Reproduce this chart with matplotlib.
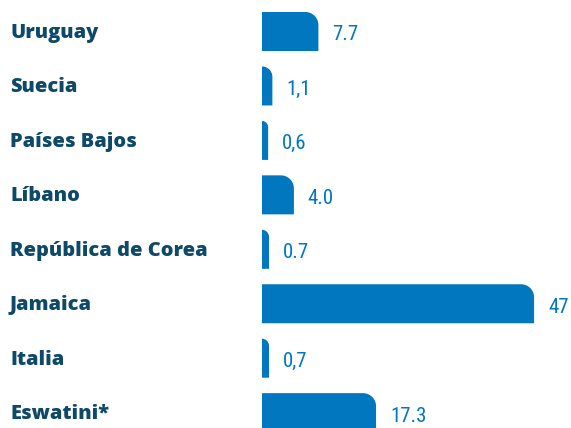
import matplotlib
matplotlib.use("Agg")
import matplotlib.pyplot as plt
from matplotlib.path import Path
from matplotlib.patches import PathPatch
from matplotlib.transforms import IdentityTransform

countries = ["Uruguay", "Suecia", "Países Bajos", "Líbano",
             "República de Corea", "Jamaica", "Italia", "Eswatini*"]
values = [7.7, 1.1, 0.6, 4.0, 0.7, 47, 0.7, 17.3]
value_labels = ["7.7", "1,1", "0,6", "4.0", "0.7", "47", "0,7", "17.3"]

BAR_COLOR = "#0077bf"
LABEL_COLOR = "#0e4a68"
EXP = 0.87

W, H, DPI = 571, 428, 100
fig = plt.figure(figsize=(W / DPI, H / DPI), dpi=DPI)
fig.patch.set_facecolor("white")

row_h = 54.45
first_c = 31.5
ax = fig.add_axes([262 / W, 0, 1 - 262 / W, 1])
ax.set_xscale("function", functions=(lambda v: abs(v) ** EXP,
                                     lambda t: abs(t) ** (1 / EXP)))
ax.set_xlim(0, 54.4)
ax.set_ylim((H - first_c) / row_h, -first_c / row_h)
ax.axis("off")

ypos = list(range(len(countries)))
bars = ax.barh(ypos, values, height=39 / row_h, color=BAR_COLOR, linewidth=0)

fig.canvas.draw()

# Replace each plain rectangle with one whose top-right corner is rounded
for rect in bars:
    bb = rect.get_window_extent()
    x0, y0, x1, y1 = bb.x0, bb.y0, bb.x1, bb.y1
    w, h = x1 - x0, y1 - y0
    r = min(13.0, w, h / 2)
    k = 0.5523
    verts = [
        (x0, y0), (x1, y0), (x1, y1 - r),
        (x1, y1 - r + k * r), (x1 - r + k * r, y1), (x1 - r, y1),
        (x0, y1), (x0, y0),
    ]
    codes = [Path.MOVETO, Path.LINETO, Path.LINETO,
             Path.CURVE4, Path.CURVE4, Path.CURVE4,
             Path.LINETO, Path.CLOSEPOLY]
    patch = PathPatch(Path(verts, codes), facecolor=BAR_COLOR, edgecolor="none",
                      transform=IdentityTransform())
    fig.patches.append(patch)
    rect.set_visible(False)

for i, (name, v, lab) in enumerate(zip(countries, values, value_labels)):
    fig.text(10 / W, 1 - (first_c + i * row_h + 1.5) / H, name,
             ha="left", va="center", fontsize=14.4, fontweight=800,
             family=["Open Sans", "DejaVu Sans"], color=LABEL_COLOR)
    ax.annotate(lab, xy=(v, i), xytext=(10, -2.5), textcoords="offset points",
                ha="left", va="center", fontsize=15, fontstretch="condensed",
                fontweight="normal",
                family=["Roboto Condensed", "DejaVu Sans"],
                color=BAR_COLOR)

fig.savefig("out.png", dpi=DPI, facecolor="white")
